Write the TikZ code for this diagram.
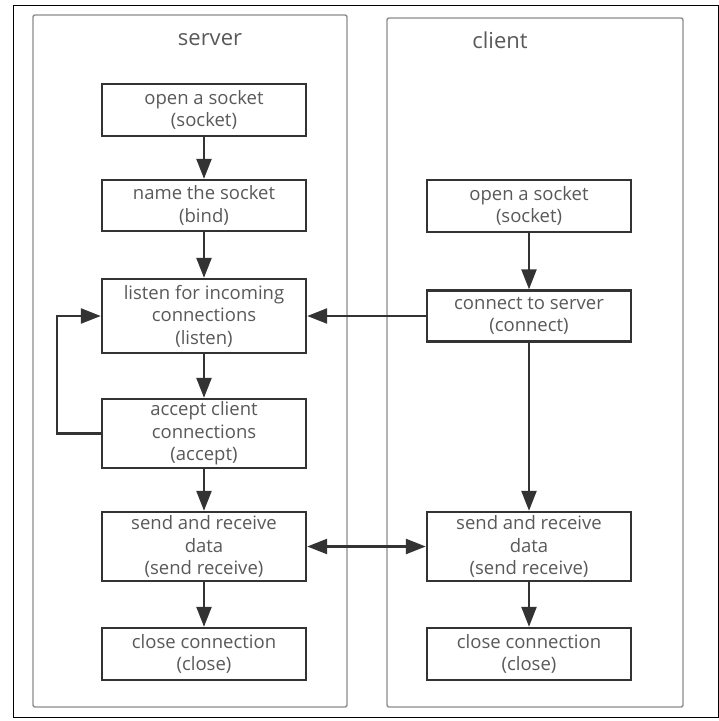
\documentclass[tikz,border=0pt]{standalone}
\usepackage{fontspec}
\setmainfont{Open Sans}
\usetikzlibrary{arrows.meta}
\definecolor{boxline}{HTML}{333333}
\definecolor{laneline}{HTML}{8C8C8C}
\definecolor{txtgray}{HTML}{595959}
\tikzset{
  stepbox/.style={draw=boxline,line width=2.4pt,fill=white,text=txtgray,align=center,
    minimum width=204pt,inner sep=0pt,font=\fontsize{18.5}{22.5}\selectfont},
  lane/.style={draw=laneline,line width=1.4pt,rounded corners=2pt},
  lanetitle/.style={text=txtgray,font=\fontsize{22}{26}\selectfont},
  tip/.tip={Triangle[length=20pt,width=15pt]},
  flow/.style={draw=boxline,line width=2.4pt,-tip},
  twoway/.style={draw=boxline,line width=2.4pt,tip-tip}
}
\begin{document}
\begin{tikzpicture}[x=1pt,y=-1pt]
\useasboundingbox (0,0) rectangle (719,721);
\draw[black,line width=1pt] (13,5) rectangle (718,717);

\draw[lane] (33,15) rectangle (347,707);
\draw[lane] (387,18) rectangle (683,707);
\node[lanetitle] (stitle) at (210,40) {server};
\node[lanetitle] (ctitle) at (500,40) {client};

\node[stepbox,minimum height=52pt] (sopen) at (204,110) {open a socket\\(socket)};
\node[stepbox,minimum height=51pt] (sbind) at (204,205.5) {name the socket\\(bind)};
\node[stepbox,minimum height=74pt] (slisten) at (204,316) {listen for incoming\\connections\\(listen)};
\node[stepbox,minimum height=69pt] (saccept) at (204,433.5) {accept client\\connections\\(accept)};
\node[stepbox,minimum height=69pt] (ssend) at (204,546.5) {send and receive\\data\\(send receive)};
\node[stepbox,minimum height=52pt] (sclose) at (204,654) {close connection\\(close)};

\node[stepbox,minimum height=52pt] (copen) at (529,206) {open a socket\\(socket)};
\node[stepbox,minimum height=51pt] (cconnect) at (529,316) {connect to server\\(connect)};
\node[stepbox,minimum height=69pt] (csend) at (529,546.5) {send and receive\\data\\(send receive)};
\node[stepbox,minimum height=52pt] (cclose) at (529,654) {close connection\\(close)};

\draw[flow] (sopen) -- (sbind);
\draw[flow] (sbind) -- (slisten);
\draw[flow] (slisten) -- (saccept);
\draw[flow] (saccept) -- (ssend);
\draw[flow] (ssend) -- (sclose);
\draw[flow] (saccept.west) -- ++(-44,0) |- (slisten.west);

\draw[flow] (copen) -- (cconnect);
\draw[flow] (cconnect) -- (csend);
\draw[flow] (csend) -- (cclose);
\draw[flow] (cconnect) -- (slisten);
\draw[twoway] (ssend) -- (csend);
\end{tikzpicture}
\end{document}
